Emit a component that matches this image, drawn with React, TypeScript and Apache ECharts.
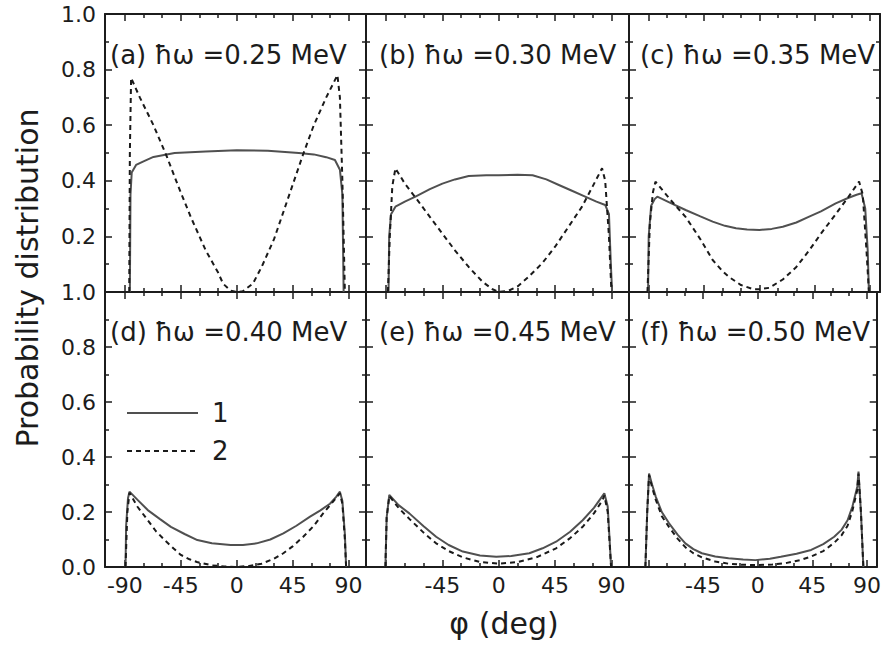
import React, { useEffect, useRef } from 'react';
import * as echarts from 'echarts';

// ---------- data ----------
const panelTitles = [
  '(a) ħω =0.25 MeV',
  '(b) ħω =0.30 MeV',
  '(c) ħω =0.35 MeV',
  '(d) ħω =0.40 MeV',
  '(e) ħω =0.45 MeV',
  '(f) ħω =0.50 MeV',
];
const xMajorTicks = [-90, -45, 0, 45, 90];
const xMinorTicks = [-75, -60, -30, -15, 15, 30, 60, 75];
const xLabelsFirst = [-90, -45, 0, 45, 90];
const xLabelsOther = [-45, 0, 45, 90];
const legendNames = ['1', '2'];

type Pt = [number, number];

const solidA: Pt[] = [[-86, 0], [-85.5, 0.35], [-84.5, 0.43], [-81, 0.457], [-75, 0.47], [-67, 0.486], [-50, 0.5], [-25, 0.505], [0, 0.51], [25, 0.508], [50, 0.5], [62, 0.495], [72, 0.485], [79, 0.475], [83, 0.44], [85, 0.35], [86, 0]];
const dashedA: Pt[] = [[-86.5, 0], [-86, 0.5], [-85, 0.77], [-78, 0.7], [-67, 0.6], [-56.5, 0.49], [-47, 0.38], [-37, 0.27], [-25, 0.15], [-15, 0.07], [-11, 0.03], [-5, 0.005], [0, 0], [5, 0.003], [13, 0.03], [20, 0.09], [30, 0.19], [40, 0.32], [53, 0.49], [62, 0.6], [72, 0.7], [81, 0.78], [83, 0.7], [85, 0.4], [87, 0]];

const solidB: Pt[] = [[-88, 0], [-87.5, 0.2], [-86, 0.28], [-82.5, 0.307], [-75, 0.325], [-66.5, 0.343], [-55, 0.37], [-45, 0.39], [-35, 0.405], [-24, 0.417], [-10, 0.42], [0, 0.42], [15, 0.422], [27, 0.42], [38, 0.405], [48, 0.385], [58, 0.365], [69, 0.343], [78, 0.325], [85, 0.313], [88, 0.28], [89.5, 0.1], [90.5, 0]];
const dashedB: Pt[] = [[-88.5, 0], [-87, 0.2], [-85, 0.38], [-82.5, 0.445], [-75, 0.39], [-66.5, 0.34], [-55, 0.27], [-45, 0.21], [-35, 0.15], [-24, 0.09], [-13, 0.037], [-5, 0.01], [0, 0], [8, 0.005], [15, 0.02], [24, 0.055], [35, 0.105], [45, 0.163], [55, 0.23], [66.5, 0.307], [75, 0.38], [82.5, 0.445], [85, 0.4], [88, 0.2], [90, 0]];

const solidC: Pt[] = [[-90.5, 0], [-90, 0.2], [-88, 0.31], [-85, 0.335], [-83, 0.343], [-72, 0.32], [-60, 0.295], [-48, 0.272], [-38, 0.253], [-28, 0.238], [-19, 0.229], [-10, 0.225], [0, 0.223], [10, 0.227], [19, 0.235], [30, 0.25], [40, 0.27], [50, 0.29], [62, 0.319], [72, 0.338], [79, 0.35], [83, 0.355], [86, 0.3], [88, 0.15], [89, 0]];
const dashedC: Pt[] = [[-91, 0], [-89, 0.25], [-86.5, 0.36], [-84.5, 0.397], [-72, 0.33], [-60, 0.27], [-48, 0.19], [-38, 0.115], [-30, 0.075], [-25, 0.055], [-15, 0.025], [-5, 0.01], [0, 0.01], [8, 0.015], [19, 0.045], [30, 0.09], [40.5, 0.15], [50, 0.21], [62, 0.28], [72, 0.34], [81, 0.397], [84, 0.35], [87, 0.15], [89, 0]];

const solidD: Pt[] = [[-89.5, 0], [-89, 0.15], [-87.5, 0.25], [-86.3, 0.274], [-80, 0.245], [-71.6, 0.207], [-62, 0.175], [-53, 0.146], [-42, 0.12], [-31.7, 0.098], [-20, 0.086], [-5, 0.08], [5, 0.08], [16, 0.086], [27, 0.1], [37.5, 0.122], [48, 0.15], [59, 0.183], [67, 0.205], [75, 0.23], [80, 0.255], [83, 0.274], [85, 0.24], [87, 0.12], [88, 0]];
const dashedD: Pt[] = [[-89.5, 0], [-88, 0.2], [-86.3, 0.27], [-80, 0.22], [-71.6, 0.17], [-65, 0.13], [-58, 0.098], [-51, 0.068], [-45, 0.044], [-38, 0.028], [-32, 0.018], [-20, 0.006], [-10, 0.002], [0, 0], [10, 0.004], [20, 0.012], [30, 0.03], [37.5, 0.05], [45, 0.075], [53.5, 0.11], [62, 0.15], [69.5, 0.195], [77, 0.235], [83, 0.268], [85, 0.23], [87, 0.1], [88, 0]];

const solidE: Pt[] = [[-90.5, 0], [-89.5, 0.18], [-87.4, 0.262], [-80, 0.225], [-71.4, 0.195], [-60, 0.148], [-50, 0.11], [-40, 0.08], [-28.7, 0.056], [-15, 0.042], [-2, 0.037], [10, 0.04], [24.4, 0.05], [35, 0.068], [45.8, 0.092], [57, 0.128], [67, 0.17], [76, 0.215], [84.3, 0.268], [87, 0.22], [88.5, 0.1], [89.7, 0]];
const dashedE: Pt[] = [[-90.5, 0], [-89.5, 0.18], [-87.4, 0.258], [-80, 0.215], [-71.4, 0.175], [-60, 0.125], [-50, 0.086], [-40, 0.058], [-28.7, 0.035], [-15, 0.018], [0, 0.012], [15, 0.018], [30, 0.035], [45.8, 0.068], [57, 0.105], [67, 0.146], [76, 0.195], [83, 0.244], [84.3, 0.26], [87, 0.2], [88.5, 0.09], [89.7, 0]];

const solidF: Pt[] = [[-92.5, 0], [-91, 0.2], [-89.5, 0.34], [-87, 0.3], [-84, 0.256], [-79, 0.2], [-73, 0.159], [-66, 0.118], [-59.6, 0.086], [-53, 0.065], [-46, 0.05], [-35, 0.038], [-24, 0.032], [-12, 0.027], [-2, 0.025], [10, 0.03], [19, 0.037], [32, 0.048], [44, 0.062], [54, 0.083], [63, 0.11], [69, 0.135], [74, 0.17], [78, 0.22], [82, 0.292], [83, 0.347], [85, 0.2], [87, 0]];
const dashedF: Pt[] = [[-92.5, 0], [-91, 0.2], [-89.5, 0.335], [-87, 0.29], [-84, 0.245], [-79, 0.185], [-73, 0.145], [-66, 0.103], [-59.6, 0.072], [-53, 0.05], [-46, 0.035], [-35, 0.02], [-24, 0.012], [-12, 0.008], [0, 0.007], [12, 0.009], [24, 0.015], [35, 0.025], [44, 0.038], [54, 0.058], [63, 0.088], [69, 0.115], [74, 0.15], [78, 0.205], [82, 0.28], [83, 0.34], [85, 0.2], [87, 0]];

const solidCurves = [solidA, solidB, solidC, solidD, solidE, solidF];
const dashedCurves = [dashedA, dashedB, dashedC, dashedD, dashedE, dashedF];

// ---------- layout ----------
const GRID_LEFT = [105, 366, 629];
const GRID_WIDTH = [261, 263, 251];
const GRID_TOP = [14, 292];
const GRID_HEIGHT = [278, 275];
const X_MIN = -106;
const X_MAX = [104, 104, 98];
const TITLE_X = [110, 379, 640];
const TITLE_Y = [55, 332];

const INK = '#1c1c1c';
const SOLID_COLOR = '#505050';
const DASH_COLOR = '#1a1a1a';
const DASH = [5, 4];
const FONT = '"DejaVu Sans", "Liberation Sans", sans-serif';

function buildOption(): any {
  const grid: any[] = [];
  const xAxis: any[] = [];
  const yAxis: any[] = [];
  const series: any[] = [];
  const graphic: any[] = [];
  const tickStyle = { color: INK, width: 1.5 };
  const lineStyle = { color: INK, width: 2 };

  for (let i = 0; i < 6; i++) {
    const col = i % 3;
    const row = Math.floor(i / 3);
    grid.push({ left: GRID_LEFT[col], top: GRID_TOP[row], width: GRID_WIDTH[col], height: GRID_HEIGHT[row] });

    const base = { type: 'value', gridIndex: i, min: X_MIN, max: X_MAX[col], splitLine: { show: false } };
    const labelVals = row === 1 ? (col === 0 ? xLabelsFirst : xLabelsOther) : [];
    for (const pos of ['bottom', 'top']) {
      const showLab = pos === 'bottom' && row === 1;
      xAxis.push({
        ...base,
        position: pos,
        axisLine: { show: true, onZero: false, lineStyle },
        axisTick: { show: true, inside: true, length: 7, customValues: xMajorTicks, lineStyle: tickStyle },
        axisLabel: showLab
          ? { show: true, customValues: labelVals, margin: 7, color: INK, fontSize: 22, fontFamily: FONT, formatter: (v: number) => String(v) }
          : { show: false },
      });
      xAxis.push({
        ...base,
        position: pos,
        axisLine: { show: false, onZero: false },
        axisTick: { show: true, inside: true, length: 4, customValues: xMinorTicks, lineStyle: tickStyle },
        axisLabel: { show: false },
      });
    }
    for (const pos of ['left', 'right']) {
      const showLab = pos === 'left' && col === 0;
      yAxis.push({
        type: 'value',
        gridIndex: i,
        min: 0,
        max: 1,
        interval: 0.2,
        position: pos,
        splitLine: { show: false },
        axisLine: { show: true, onZero: false, lineStyle },
        axisTick: { show: true, inside: true, length: 7, lineStyle: tickStyle },
        minorTick: { show: true, splitNumber: 2, length: 4, lineStyle: tickStyle },
        minorSplitLine: { show: false },
        axisLabel: showLab
          ? {
              show: true,
              margin: 9,
              color: INK,
              fontSize: 22,
              fontFamily: FONT,
              formatter: (v: number) => (row === 0 && v === 0 ? '' : v.toFixed(1)),
            }
          : { show: false },
      });
    }

    series.push({
      type: 'line',
      name: legendNames[0],
      xAxisIndex: 4 * i,
      yAxisIndex: 2 * i,
      data: solidCurves[i],
      symbol: 'none',
      showSymbol: false,
      silent: true,
      lineStyle: { color: SOLID_COLOR, width: 2, type: 'solid' },
      itemStyle: { color: SOLID_COLOR },
    });
    series.push({
      type: 'line',
      name: legendNames[1],
      xAxisIndex: 4 * i,
      yAxisIndex: 2 * i,
      data: dashedCurves[i],
      symbol: 'none',
      showSymbol: false,
      silent: true,
      lineStyle: { color: DASH_COLOR, width: 2, type: DASH },
      itemStyle: { color: DASH_COLOR },
    });

    graphic.push({
      type: 'text',
      x: TITLE_X[col],
      y: TITLE_Y[row],
      z: 10,
      style: {
        text: panelTitles[i],
        fill: INK,
        font: `normal 26px ${FONT}`,
        textAlign: 'left',
        textVerticalAlign: 'middle',
      },
    });
  }

  // legend (key) in panel (d)
  const keyRows = [
    { y: 413, stroke: SOLID_COLOR, dash: null as number[] | null, label: legendNames[0] },
    { y: 451, stroke: DASH_COLOR, dash: DASH, label: legendNames[1] },
  ];
  for (const k of keyRows) {
    graphic.push({
      type: 'line',
      shape: { x1: 127, y1: k.y, x2: 198, y2: k.y },
      style: { stroke: k.stroke, lineWidth: 2, lineDash: k.dash || undefined },
      z: 10,
    });
    graphic.push({
      type: 'text',
      x: 212,
      y: k.y,
      z: 10,
      style: { text: k.label, fill: INK, font: `normal 26px ${FONT}`, textAlign: 'left', textVerticalAlign: 'middle' },
    });
  }

  graphic.push({
    type: 'text',
    x: 27,
    y: 278,
    rotation: Math.PI / 2,
    style: {
      text: 'Probability distribution',
      fill: INK,
      font: `normal 30px ${FONT}`,
      textAlign: 'center',
      textVerticalAlign: 'middle',
    },
  });
  graphic.push({
    type: 'text',
    x: 504,
    y: 623,
    style: {
      text: 'φ (deg)',
      fill: INK,
      font: `normal 30px ${FONT}`,
      textAlign: 'center',
      textVerticalAlign: 'middle',
    },
  });

  return {
    animation: false,
    backgroundColor: '#ffffff',
    grid,
    xAxis,
    yAxis,
    series,
    graphic,
  };
}

export default function App() {
  const ref = useRef<HTMLDivElement>(null);
  useEffect(() => {
    if (!ref.current) return;
    const chart = echarts.init(ref.current, undefined, { renderer: 'svg' });
    chart.setOption(buildOption());
    return () => chart.dispose();
  }, []);
  return (
    <div
      ref={ref}
      style={{ position: 'fixed', left: 0, top: 0, width: 884, height: 647, background: '#fff' }}
    />
  );
}
